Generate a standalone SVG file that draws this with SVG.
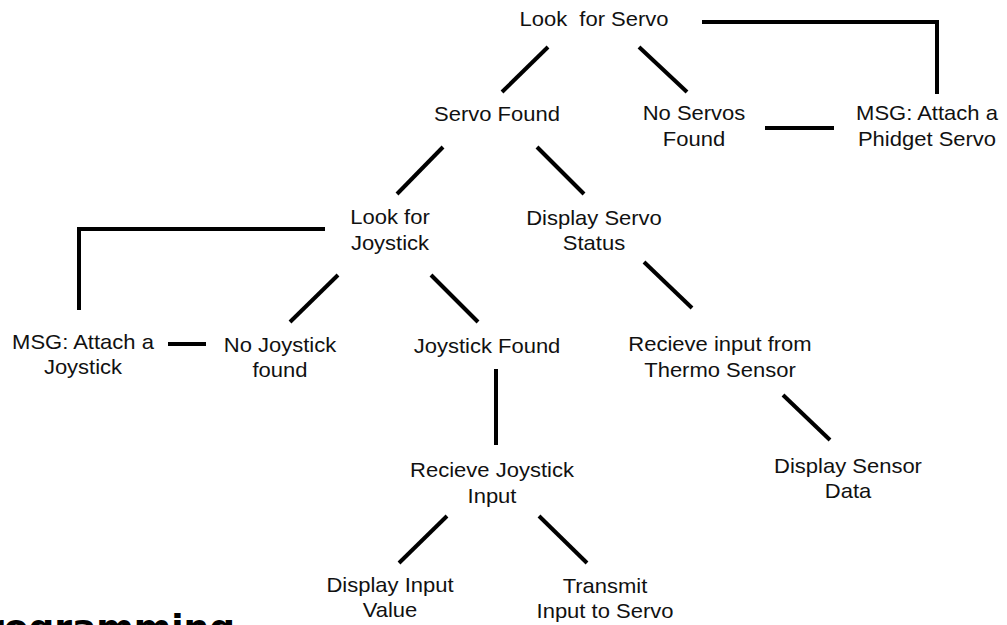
<svg xmlns="http://www.w3.org/2000/svg" width="1007" height="625" viewBox="0 0 1007 625">
  <style>
    .lbl { font-family: "Liberation Sans", Arial, sans-serif; font-size: 20px; fill: #111; text-anchor: middle; }
    .edge { stroke: #000; stroke-width: 4; fill: none; stroke-linecap: butt; stroke-linejoin: miter; }
    .title { font-family: "DejaVu Sans", Verdana, sans-serif; font-weight: bold; font-size: 36px; fill: #000; }
  </style>
  <rect width="1007" height="625" fill="#fff"/>

  <!-- connectors -->
  <g id="connectors">
    <line class="edge" x1="548" y1="47" x2="502" y2="92"/>
    <line class="edge" x1="639" y1="47" x2="687" y2="92"/>
    <polyline class="edge" points="702,22 937,22 937,94"/>
    <line class="edge" x1="765" y1="128" x2="834" y2="128"/>
    <line class="edge" x1="443" y1="147" x2="397" y2="194"/>
    <line class="edge" x1="537" y1="147" x2="584" y2="194"/>
    <polyline class="edge" points="325,229 79,229 79,310"/>
    <line class="edge" x1="338" y1="275" x2="290" y2="322"/>
    <line class="edge" x1="431" y1="275" x2="478" y2="322"/>
    <line class="edge" x1="206" y1="344" x2="168" y2="344"/>
    <line class="edge" x1="644" y1="262" x2="692" y2="308"/>
    <line class="edge" x1="496" y1="369" x2="496" y2="445"/>
    <line class="edge" x1="783" y1="395" x2="830" y2="440"/>
    <line class="edge" x1="447" y1="516" x2="399" y2="563"/>
    <line class="edge" x1="539" y1="516" x2="587" y2="563"/>
  </g>

  <!-- nodes: labels are drawn slightly widened -->
  <g id="look-for-servo" transform="translate(594,26) scale(1.1,1)">
    <text class="lbl" x="0" y="0" xml:space="preserve">Look  for Servo</text>
  </g>
  <g id="servo-found" transform="translate(497,121) scale(1.1,1)">
    <text class="lbl" x="0" y="0">Servo Found</text>
  </g>
  <g id="no-servos-found" transform="translate(694,120) scale(1.1,1)">
    <text class="lbl" x="0" y="0">No Servos</text>
    <text class="lbl" x="0" y="26">Found</text>
  </g>
  <g id="msg-attach-servo" transform="translate(927,120) scale(1.1,1)">
    <text class="lbl" x="0" y="0">MSG: Attach a</text>
    <text class="lbl" x="0" y="26">Phidget Servo</text>
  </g>
  <g id="look-for-joystick" transform="translate(390,224) scale(1.1,1)">
    <text class="lbl" x="0" y="0">Look for</text>
    <text class="lbl" x="0" y="26">Joystick</text>
  </g>
  <g id="display-servo-status" transform="translate(594,225) scale(1.1,1)">
    <text class="lbl" x="0" y="0">Display Servo</text>
    <text class="lbl" x="0" y="25">Status</text>
  </g>
  <g id="msg-attach-joystick" transform="translate(83,349) scale(1.1,1)">
    <text class="lbl" x="0" y="0">MSG: Attach a</text>
    <text class="lbl" x="0" y="25">Joystick</text>
  </g>
  <g id="no-joystick-found" transform="translate(280,352) scale(1.1,1)">
    <text class="lbl" x="0" y="0">No Joystick</text>
    <text class="lbl" x="0" y="25">found</text>
  </g>
  <g id="joystick-found" transform="translate(487,353) scale(1.1,1)">
    <text class="lbl" x="0" y="0">Joystick Found</text>
  </g>
  <g id="receive-thermo" transform="translate(720,351) scale(1.1,1)">
    <text class="lbl" x="0" y="0">Recieve input from</text>
    <text class="lbl" x="0" y="26">Thermo Sensor</text>
  </g>
  <g id="receive-joystick" transform="translate(492,477) scale(1.1,1)">
    <text class="lbl" x="0" y="0">Recieve Joystick</text>
    <text class="lbl" x="0" y="26">Input</text>
  </g>
  <g id="display-sensor-data" transform="translate(848,473) scale(1.1,1)">
    <text class="lbl" x="0" y="0">Display Sensor</text>
    <text class="lbl" x="0" y="25">Data</text>
  </g>
  <g id="display-input-value" transform="translate(390,592) scale(1.1,1)">
    <text class="lbl" x="0" y="0">Display Input</text>
    <text class="lbl" x="0" y="25">Value</text>
  </g>
  <g id="transmit-input" transform="translate(605,593) scale(1.1,1)">
    <text class="lbl" x="0" y="0">Transmit</text>
    <text class="lbl" x="0" y="25">Input to Servo</text>
  </g>

  <!-- heading running off the lower edge -->
  <text class="title" x="235" y="640" text-anchor="end">Programming</text>
</svg>
